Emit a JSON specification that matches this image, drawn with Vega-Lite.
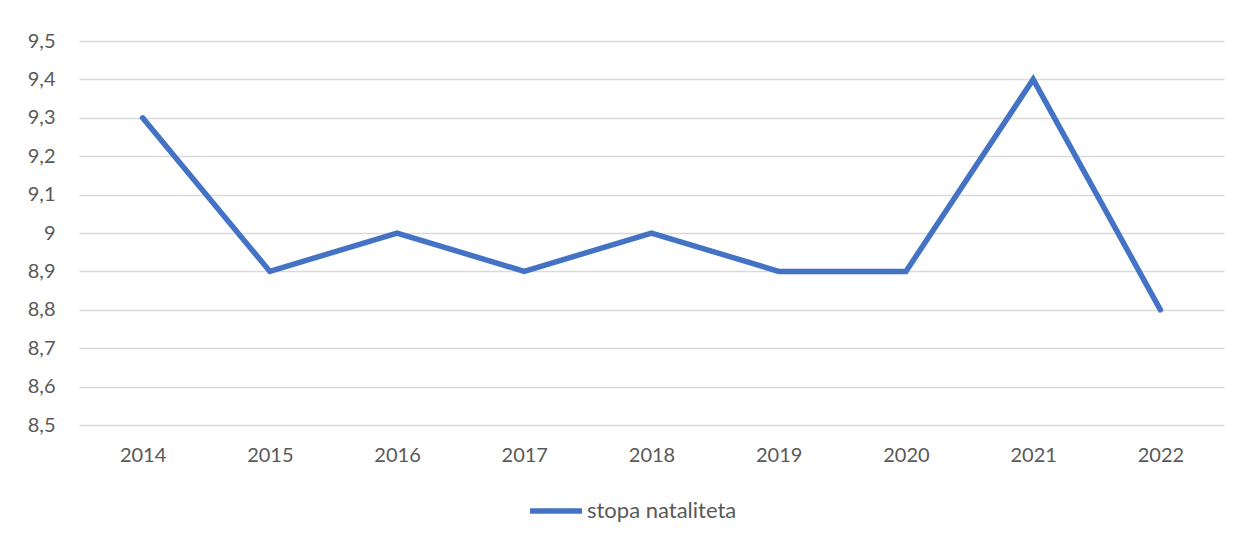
{
  "$schema": "https://vega.github.io/schema/vega-lite/v6.json",
  "autosize": "none",
  "width": 1145,
  "height": 384,
  "padding": {"left": 79, "top": 41, "right": 17, "bottom": 116},
  "background": "white",
  "data": {"values": [
    {"year": "2014", "rate": 9.3},
    {"year": "2015", "rate": 8.9},
    {"year": "2016", "rate": 9.0},
    {"year": "2017", "rate": 8.9},
    {"year": "2018", "rate": 9.0},
    {"year": "2019", "rate": 8.9},
    {"year": "2020", "rate": 8.9},
    {"year": "2021", "rate": 9.4},
    {"year": "2022", "rate": 8.8}
  ]},
  "mark": {"type": "line", "strokeWidth": 5.5, "strokeCap": "round", "strokeJoin": "miter"},
  "encoding": {
    "x": {"field": "year", "type": "ordinal", "title": null,
      "scale": {"type": "point", "padding": 0.5},
      "axis": {"labelAngle": 0, "ticks": false, "domain": false, "grid": false,
        "labelFont": "Lato", "labelFontSize": 20, "labelColor": "#595959", "labelPadding": 20}},
    "y": {"field": "rate", "type": "quantitative", "title": null,
      "scale": {"domain": [8.5, 9.5], "nice": false, "zero": false},
      "axis": {"values": [8.5, 8.6, 8.7, 8.8, 8.9, 9.0, 9.1, 9.2, 9.3, 9.4, 9.5],
        "labelExpr": "replace(format(datum.value, '.2~f'), '.', ',')",
        "ticks": false, "domain": false, "grid": true, "gridColor": "#d9d9d9", "gridWidth": 1.5,
        "labelFont": "Lato", "labelFontSize": 20, "labelColor": "#595959", "labelPadding": 24}},
    "color": {"datum": "stopa nataliteta", "type": "nominal",
      "scale": {"range": ["#4472C4"]},
      "legend": {"title": null, "orient": "none", "legendX": 448, "legendY": 441,
        "symbolType": "stroke", "symbolSize": 2704, "symbolStrokeWidth": 5.5,
        "labelFont": "Lato", "labelFontSize": 22, "labelColor": "#595959", "labelOffset": 2}}
  },
  "config": {"view": {"stroke": null}}
}
